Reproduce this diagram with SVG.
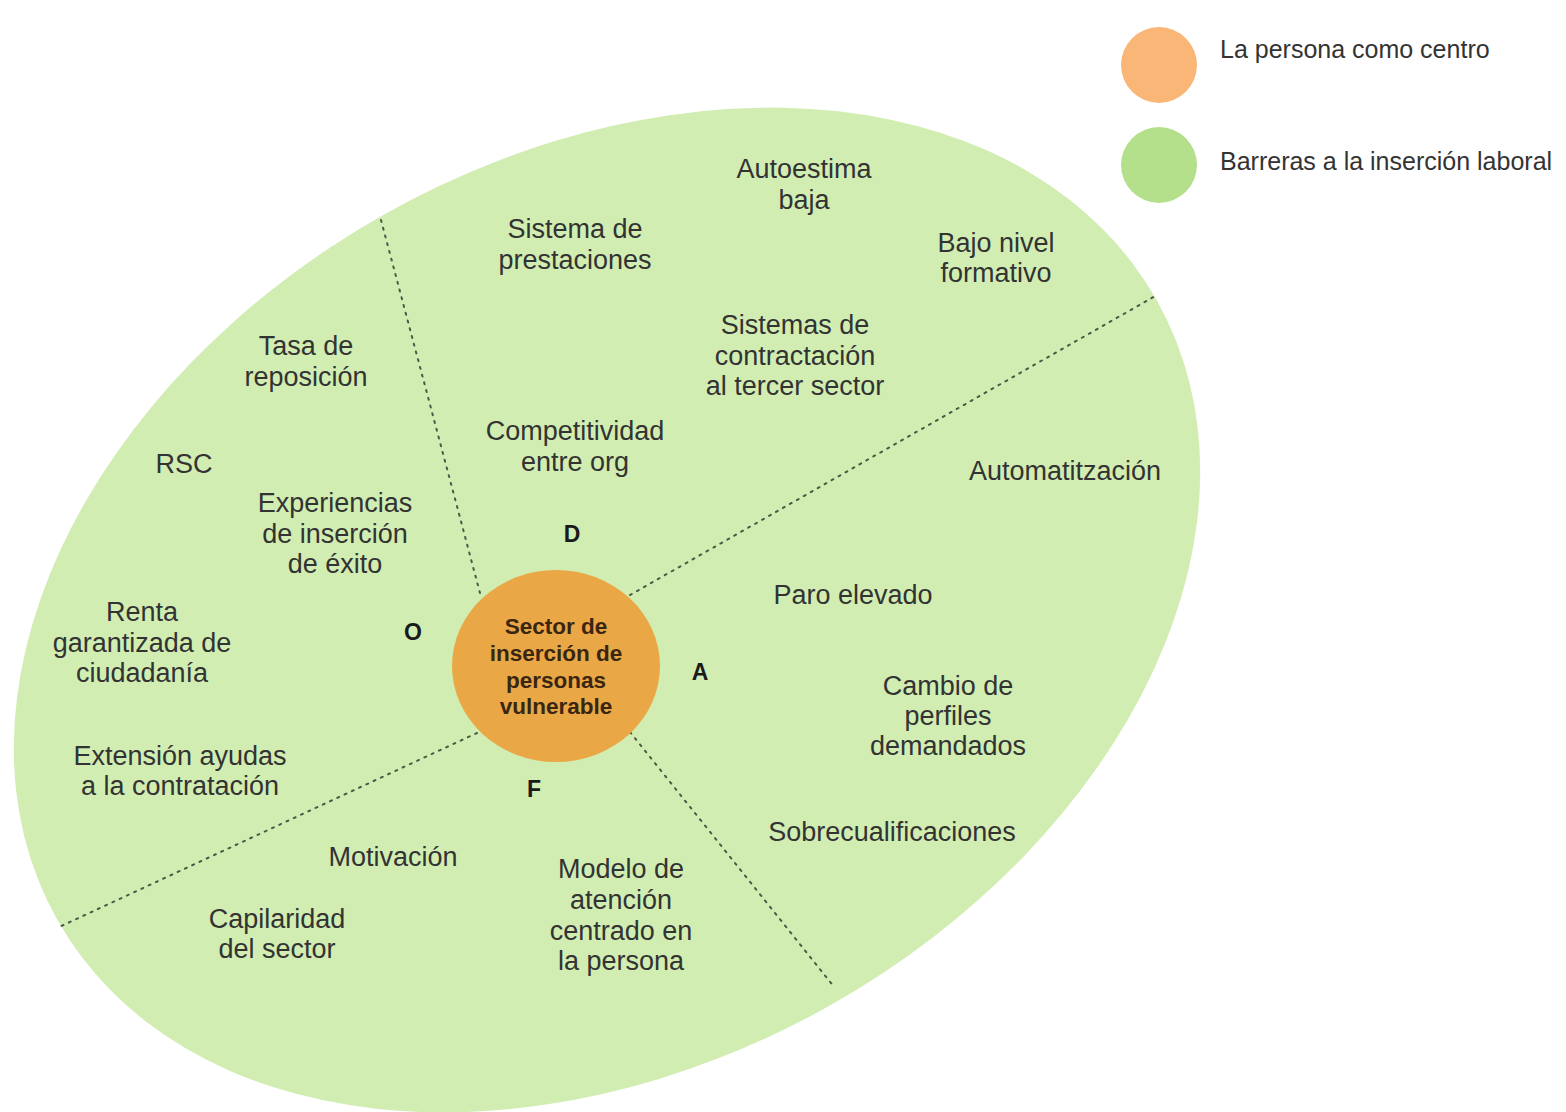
<svg xmlns="http://www.w3.org/2000/svg" width="1566" height="1112" viewBox="0 0 1566 1112">
<style>
.lbl{font-family:"Liberation Sans",Arial,sans-serif;font-size:27px;fill:#333;text-anchor:middle}
.quad{font-family:"Liberation Sans",Arial,sans-serif;font-size:23px;font-weight:bold;fill:#1a1a1a;text-anchor:middle}
.ctr{font-family:"Liberation Sans",Arial,sans-serif;font-size:22.5px;font-weight:bold;fill:#3a2610;text-anchor:middle}
.leg{font-family:"Liberation Sans",Arial,sans-serif;font-size:25px;fill:#333}
.div{stroke:#4a5a44;stroke-width:2;stroke-dasharray:2 6;stroke-linecap:round;fill:none}
</style>
<rect width="1566" height="1112" fill="#ffffff"/>
<g id="field">
<ellipse cx="607" cy="610" rx="631" ry="454" transform="rotate(-29.4 607 610)" fill="#d1edb2"/>
</g>
<g id="connectors">
<line class="div" x1="381" y1="220" x2="480" y2="593"/>
<line class="div" x1="630" y1="595" x2="1157" y2="295"/>
<line class="div" x1="477" y1="733" x2="57" y2="928"/>
<line class="div" x1="630" y1="732" x2="835" y2="988"/>
</g>
<g id="center">
<ellipse cx="556" cy="666" rx="104" ry="96" fill="#eaa745"/>
<text class="ctr" x="556" y="634">Sector de</text>
<text class="ctr" x="556" y="661">inserción de</text>
<text class="ctr" x="556" y="688">personas</text>
<text class="ctr" x="556" y="714">vulnerable</text>
</g>
<g id="quadrants">
<text class="quad" x="572" y="542">D</text>
<text class="quad" x="413" y="640">O</text>
<text class="quad" x="700" y="680">A</text>
<text class="quad" x="534" y="797">F</text>
</g>
<g id="n-autoestima"><text class="lbl" x="804" y="178">Autoestima</text><text class="lbl" x="804" y="209">baja</text></g>
<g id="n-prestaciones"><text class="lbl" x="575" y="238">Sistema de</text><text class="lbl" x="575" y="269">prestaciones</text></g>
<g id="n-formativo"><text class="lbl" x="996" y="252">Bajo nivel</text><text class="lbl" x="996" y="282">formativo</text></g>
<g id="n-contractacion"><text class="lbl" x="795" y="334">Sistemas de</text><text class="lbl" x="795" y="365">contractación</text><text class="lbl" x="795" y="395">al tercer sector</text></g>
<g id="n-tasa"><text class="lbl" x="306" y="355">Tasa de</text><text class="lbl" x="306" y="386">reposición</text></g>
<g id="n-competitividad"><text class="lbl" x="575" y="440">Competitividad</text><text class="lbl" x="575" y="471">entre org</text></g>
<g id="n-rsc"><text class="lbl" x="184" y="473">RSC</text></g>
<g id="n-automat"><text class="lbl" x="1065" y="480">Automatitzación</text></g>
<g id="n-experiencias"><text class="lbl" x="335" y="512">Experiencias</text><text class="lbl" x="335" y="543">de inserción</text><text class="lbl" x="335" y="573">de éxito</text></g>
<g id="n-paro"><text class="lbl" x="853" y="604">Paro elevado</text></g>
<g id="n-renta"><text class="lbl" x="142" y="621">Renta</text><text class="lbl" x="142" y="652">garantizada de</text><text class="lbl" x="142" y="682">ciudadanía</text></g>
<g id="n-cambio"><text class="lbl" x="948" y="695">Cambio de</text><text class="lbl" x="948" y="725">perfiles</text><text class="lbl" x="948" y="755">demandados</text></g>
<g id="n-extension"><text class="lbl" x="180" y="765">Extensión ayudas</text><text class="lbl" x="180" y="795">a la contratación</text></g>
<g id="n-sobre"><text class="lbl" x="892" y="841">Sobrecualificaciones</text></g>
<g id="n-motivacion"><text class="lbl" x="393" y="866">Motivación</text></g>
<g id="n-modelo"><text class="lbl" x="621" y="878">Modelo de</text><text class="lbl" x="621" y="909">atención</text><text class="lbl" x="621" y="940">centrado en</text><text class="lbl" x="621" y="970">la persona</text></g>
<g id="n-capilaridad"><text class="lbl" x="277" y="928">Capilaridad</text><text class="lbl" x="277" y="958">del sector</text></g>
<g id="legend">
<circle cx="1159" cy="65" r="38" fill="#f9b677"/>
<text class="leg" x="1220" y="58">La persona como centro</text>
<circle cx="1159" cy="165" r="38" fill="#b4e08c"/>
<text class="leg" x="1220" y="170">Barreras a la inserción laboral</text>
</g>
</svg>
